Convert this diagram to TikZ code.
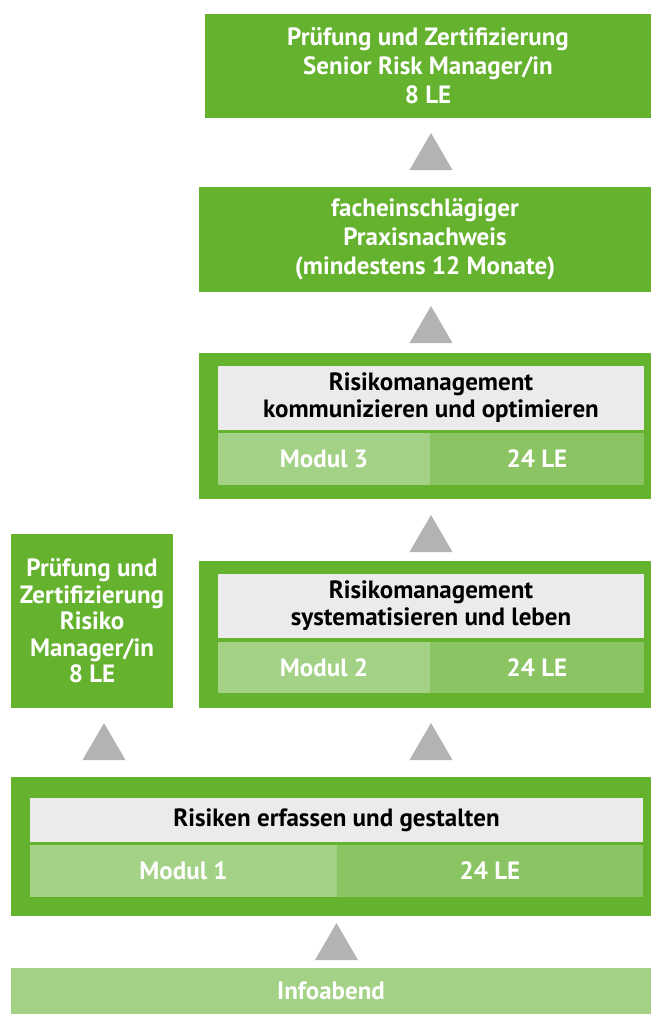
\documentclass[tikz,border=0pt]{standalone}
\usepackage{fontspec}
\setmainfont{PT Sans}
\definecolor{rmgreen}{RGB}{100,178,46}
\definecolor{rmlight}{RGB}{163,210,134}
\definecolor{rmmid}{RGB}{139,196,98}
\definecolor{rmgrey}{RGB}{235,235,235}
\definecolor{rmtri}{RGB}{178,179,181}

\begin{document}
\begin{tikzpicture}[x=1pt, y=-1pt, font=\fontsize{25}{29}\selectfont\bfseries,
  greenbox/.style={rectangle, fill=rmgreen, text=white, align=center, inner sep=0pt},
  titlebox/.style={rectangle, fill=rmgrey, text=black, align=center, inner sep=0pt, font=\fontsize{25}{27}\selectfont\bfseries},
  modbox/.style={rectangle, fill=rmlight, text=white, inner sep=0pt},
  lebox/.style={rectangle, fill=rmmid, text=white, inner sep=0pt}]
\useasboundingbox (0,0) rectangle (651,1014);

% Final certification and practice
\node[greenbox, minimum width=446, minimum height=104] (senior) at (428,66) {Prüfung und Zertifizierung\\Senior Risk Manager/in\\8 LE};
\node[greenbox, minimum width=452, minimum height=105] (praxis) at (425,239.5) {facheinschlägiger\\Praxisnachweis\\(mindestens 12 Monate)};

% Modul 3
\node[greenbox, minimum width=452, minimum height=146] (m3) at (425,426) {};
\node[titlebox, minimum width=426, minimum height=64] (m3title) at (431,398) {Risikomanagement\\kommunizieren und optimieren};
\node[modbox, minimum width=212, minimum height=52] (m3mod) at (324,459) {Modul 3};
\node[lebox, minimum width=214, minimum height=52] (m3le) at (537,459) {24 LE};

% Modul 2
\node[greenbox, minimum width=452, minimum height=147] (m2) at (425,634.5) {};
\node[titlebox, minimum width=426, minimum height=64] (m2title) at (431,606) {Risikomanagement\\systematisieren und leben};
\node[modbox, minimum width=212, minimum height=51] (m2mod) at (324,667.5) {Modul 2};
\node[lebox, minimum width=214, minimum height=51] (m2le) at (537,667.5) {24 LE};

% Risk Manager certification (left)
\node[greenbox, minimum width=162, minimum height=174, font=\fontsize{25}{26.5}\selectfont\bfseries] (risiko) at (92,621) {Prüfung und\\Zertifizierung\\Risiko\\Manager/in\\8 LE};

% Modul 1
\node[greenbox, minimum width=640, minimum height=139] (m1) at (331,846.5) {};
\node[titlebox, minimum width=613, minimum height=44] (m1title) at (336.5,820) {Risiken erfassen und gestalten};
\node[modbox, minimum width=307, minimum height=52] (m1mod) at (183.5,871) {Modul 1};
\node[lebox, minimum width=306, minimum height=52] (m1le) at (490,871) {24 LE};

% Start
\node[modbox, minimum width=640, minimum height=46] (info) at (331,991) {Infoabend};

% Grey step triangles
\foreach \tx/\ty in {431/170, 431/343, 431/552, 104/760, 431/760, 336.5/960}
  \fill[rmtri] (\tx,\ty) ++(-21.5,0) -- ++(43,0) -- ++(-21.5,-37) -- cycle;
\end{tikzpicture}
\end{document}
